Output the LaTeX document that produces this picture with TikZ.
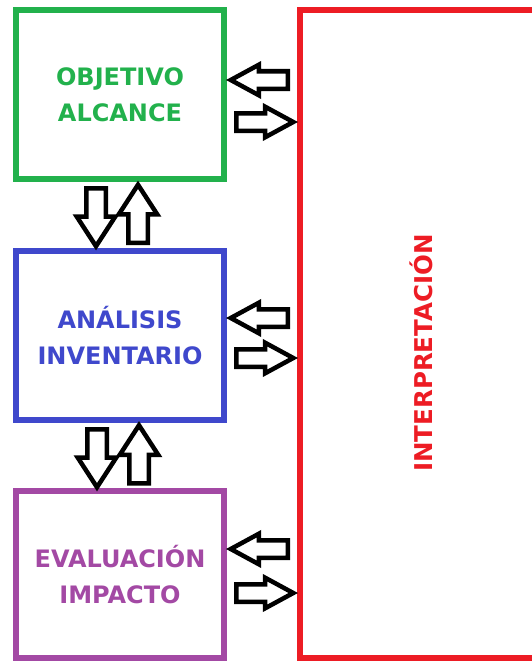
\documentclass[tikz,border=0pt]{standalone}
\usepackage{fontspec}
\setmainfont{DejaVu Sans}
\usetikzlibrary{shapes.arrows}
\definecolor{objgreen}{HTML}{22B14C}
\definecolor{invblue}{HTML}{3F48CC}
\definecolor{imppurple}{HTML}{A349A4}
\definecolor{intred}{HTML}{ED1C24}
\begin{document}
\begin{tikzpicture}[x=1pt, y=-1pt,
  fase/.style={draw, line width=6pt, minimum width=208pt, align=center, font=\bfseries\fontsize{24}{36}\selectfont},
  hflecha/.style={single arrow, draw=black, line width=4.5pt, fill=white, inner sep=6.5pt, minimum height=57pt, single arrow head extend=6.5pt, single arrow tip angle=57, anchor=tail},
  vflecha/.style={single arrow, draw=black, line width=4.5pt, fill=white, inner sep=7.5pt, minimum height=58pt, single arrow head extend=9.5pt, single arrow tip angle=66, anchor=tail}]
\useasboundingbox (0,0) rectangle (531,661);

\node[fase, draw=objgreen, text=objgreen, minimum height=169pt] (obj) at (120, 94.5) {OBJETIVO\\ALCANCE};
\node[fase, draw=invblue, text=invblue, minimum height=169pt] (inv) at (120, 335.5) {ANÁLISIS\\INVENTARIO};
\node[fase, draw=imppurple, text=imppurple, minimum height=167pt] (imp) at (120, 574.5) {EVALUACIÓN\\IMPACTO};
\node[draw=intred, line width=6pt, minimum width=240pt, minimum height=648pt] (interp) at (420, 334) {};
\node[text=intred, rotate=90, font=\bfseries\fontsize{24.5}{28}\selectfont] (interptxt) at (421, 353) {INTERPRETACIÓN};

\node[hflecha, shape border rotate=180] (int-obj) at (290, 80) {};
\node[hflecha] (obj-int) at (234, 122) {};
\node[hflecha, shape border rotate=180] (int-inv) at (290, 318) {};
\node[hflecha] (inv-int) at (234, 358) {};
\node[hflecha, shape border rotate=180] (int-imp) at (290, 549) {};
\node[hflecha] (imp-int) at (234, 593) {};

\node[vflecha, shape border rotate=270] (obj-inv) at (96, 186) {};
\node[vflecha, shape border rotate=90] (inv-obj) at (138, 245) {};
\node[vflecha, shape border rotate=270] (inv-imp) at (97, 427) {};
\node[vflecha, shape border rotate=90] (imp-inv) at (139, 485.5) {};
\end{tikzpicture}
\end{document}
